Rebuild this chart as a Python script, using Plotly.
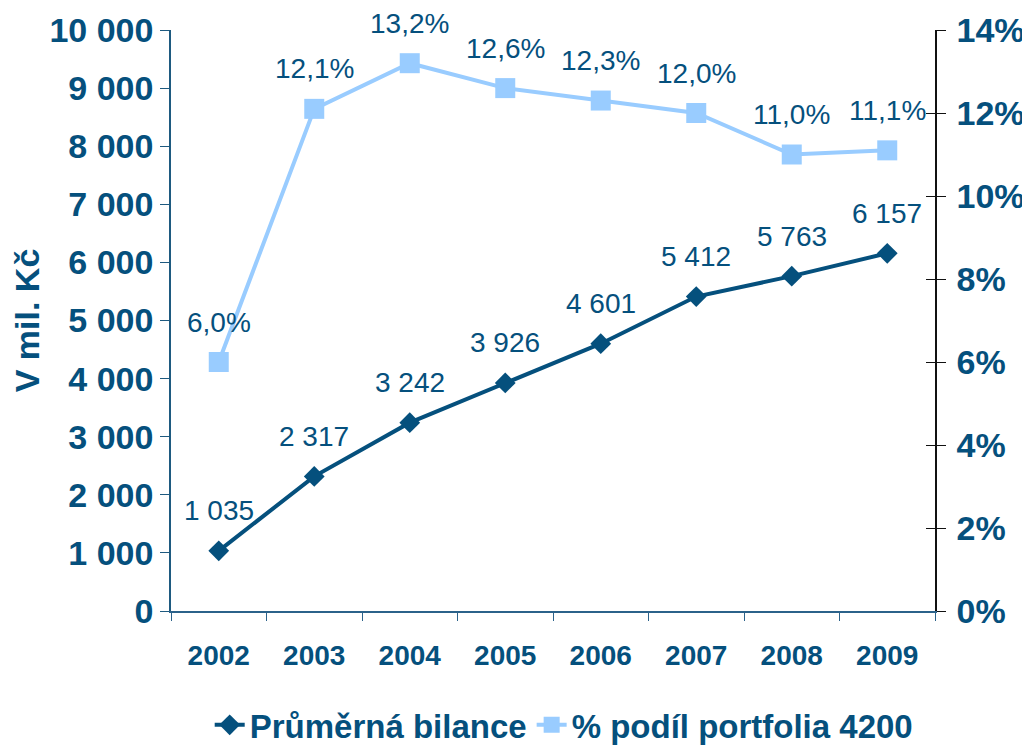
import plotly.graph_objects as go

years = ["2002", "2003", "2004", "2005", "2006", "2007", "2008", "2009"]
bilance = [1035, 2317, 3242, 3926, 4601, 5412, 5763, 6157]
podil = [6.0, 12.1, 13.2, 12.6, 12.3, 12.0, 11.0, 11.1]
left_ticks = [0, 1000, 2000, 3000, 4000, 5000, 6000, 7000, 8000, 9000, 10000]
right_ticks = [0, 2, 4, 6, 8, 10, 12, 14]

DARK = "#05507D"
LIGHT = "#99CCFF"
FONT = "Liberation Sans, Arial, sans-serif"

xs = list(range(len(years)))

def fmt_int(v):
    return f"{v:,}".replace(",", " ")

def fmt_pct(v):
    return f"{v:.1f}".replace(".", ",") + "%"

fig = go.Figure()
fig.add_trace(go.Scatter(
    x=xs, y=bilance, name="Průměrná bilance", mode="lines+markers",
    line=dict(color=DARK, width=4),
    marker=dict(symbol="diamond", size=16, color=DARK),
    yaxis="y", cliponaxis=False))
fig.add_trace(go.Scatter(
    x=xs, y=podil, name="% podíl portfolia 4200", mode="lines+markers",
    line=dict(color=LIGHT, width=4),
    marker=dict(symbol="square", size=20, color=LIGHT),
    yaxis="y2", cliponaxis=False))
# invisible helper trace so the inward tick marks of the right axis are drawn
fig.add_trace(go.Scatter(
    x=xs, y=podil, yaxis="y3", mode="lines", line=dict(width=0, color="rgba(0,0,0,0)"),
    showlegend=False, hoverinfo="skip"))

annotations = []
for x, v in zip(xs, bilance):
    annotations.append(dict(x=x, y=v, xref="x", yref="y", text=fmt_int(v),
                            showarrow=False, yshift=40,
                            font=dict(family=FONT, size=28, color=DARK)))
for x, v in zip(xs, podil):
    annotations.append(dict(x=x, y=v, xref="x", yref="y2", text=fmt_pct(v),
                            showarrow=False, yshift=40,
                            font=dict(family=FONT, size=28, color=DARK)))

fig.update_layout(
    width=1030, height=746,
    margin=dict(l=163, r=103, t=22, b=143, autoexpand=False),
    paper_bgcolor="white", plot_bgcolor="white",
    separators=", ",
    font=dict(family=FONT, color=DARK),
    showlegend=True,
    legend=dict(orientation="h", x=0.54, xref="container", xanchor="center",
                y=0.039, yref="container", yanchor="middle",
                font=dict(family=FONT, size=33, color=DARK, weight="bold"),
                traceorder="normal"),
    annotations=annotations,
    xaxis=dict(range=[-0.5, len(years) - 0.5], tickvals=xs, ticktext=years,
               automargin=False,
               showline=True, linecolor="#2B628A", linewidth=1.5,
               ticks="", showgrid=False, zeroline=False, ticklabelstandoff=19,
               minor=dict(tick0=-0.5, dtick=1, ticks="outside", ticklen=8,
                          tickcolor="#2B628A", showgrid=False),
               tickfont=dict(family=FONT, size=28, color=DARK, weight="bold")),
    yaxis=dict(range=[0, 10000], tickvals=left_ticks, tickformat=",d",
               automargin=False,
               showline=True, linecolor="#1E5A80", linewidth=1.5,
               ticks="outside", ticklen=9, tickcolor="#1E5A80",
               showgrid=False, zeroline=False,
               tickfont=dict(family=FONT, size=34, color=DARK, weight="bold"),
               title=dict(text="V mil. Kč", standoff=14,
                          font=dict(family=FONT, size=34, color=DARK, weight="bold"))),
    yaxis2=dict(range=[0, 14], tickvals=right_ticks,
                ticktext=[f"{t}%" for t in right_ticks],
                overlaying="y", side="right", anchor="x", automargin=False,
                showline=True, linecolor="#111111", linewidth=1.5,
                ticks="outside", ticklen=9, tickcolor="#111111",
                ticklabelstandoff=4,
                showgrid=False, zeroline=False,
                tickfont=dict(family=FONT, size=34, color=DARK, weight="bold")),
    yaxis3=dict(range=[0, 14], tickvals=right_ticks, overlaying="y", side="right", anchor="x",
                automargin=False,
                showline=False, ticks="inside", ticklen=9, tickcolor="#111111",
                showticklabels=False, showgrid=False, zeroline=False),
)

fig.write_html("out.html")
